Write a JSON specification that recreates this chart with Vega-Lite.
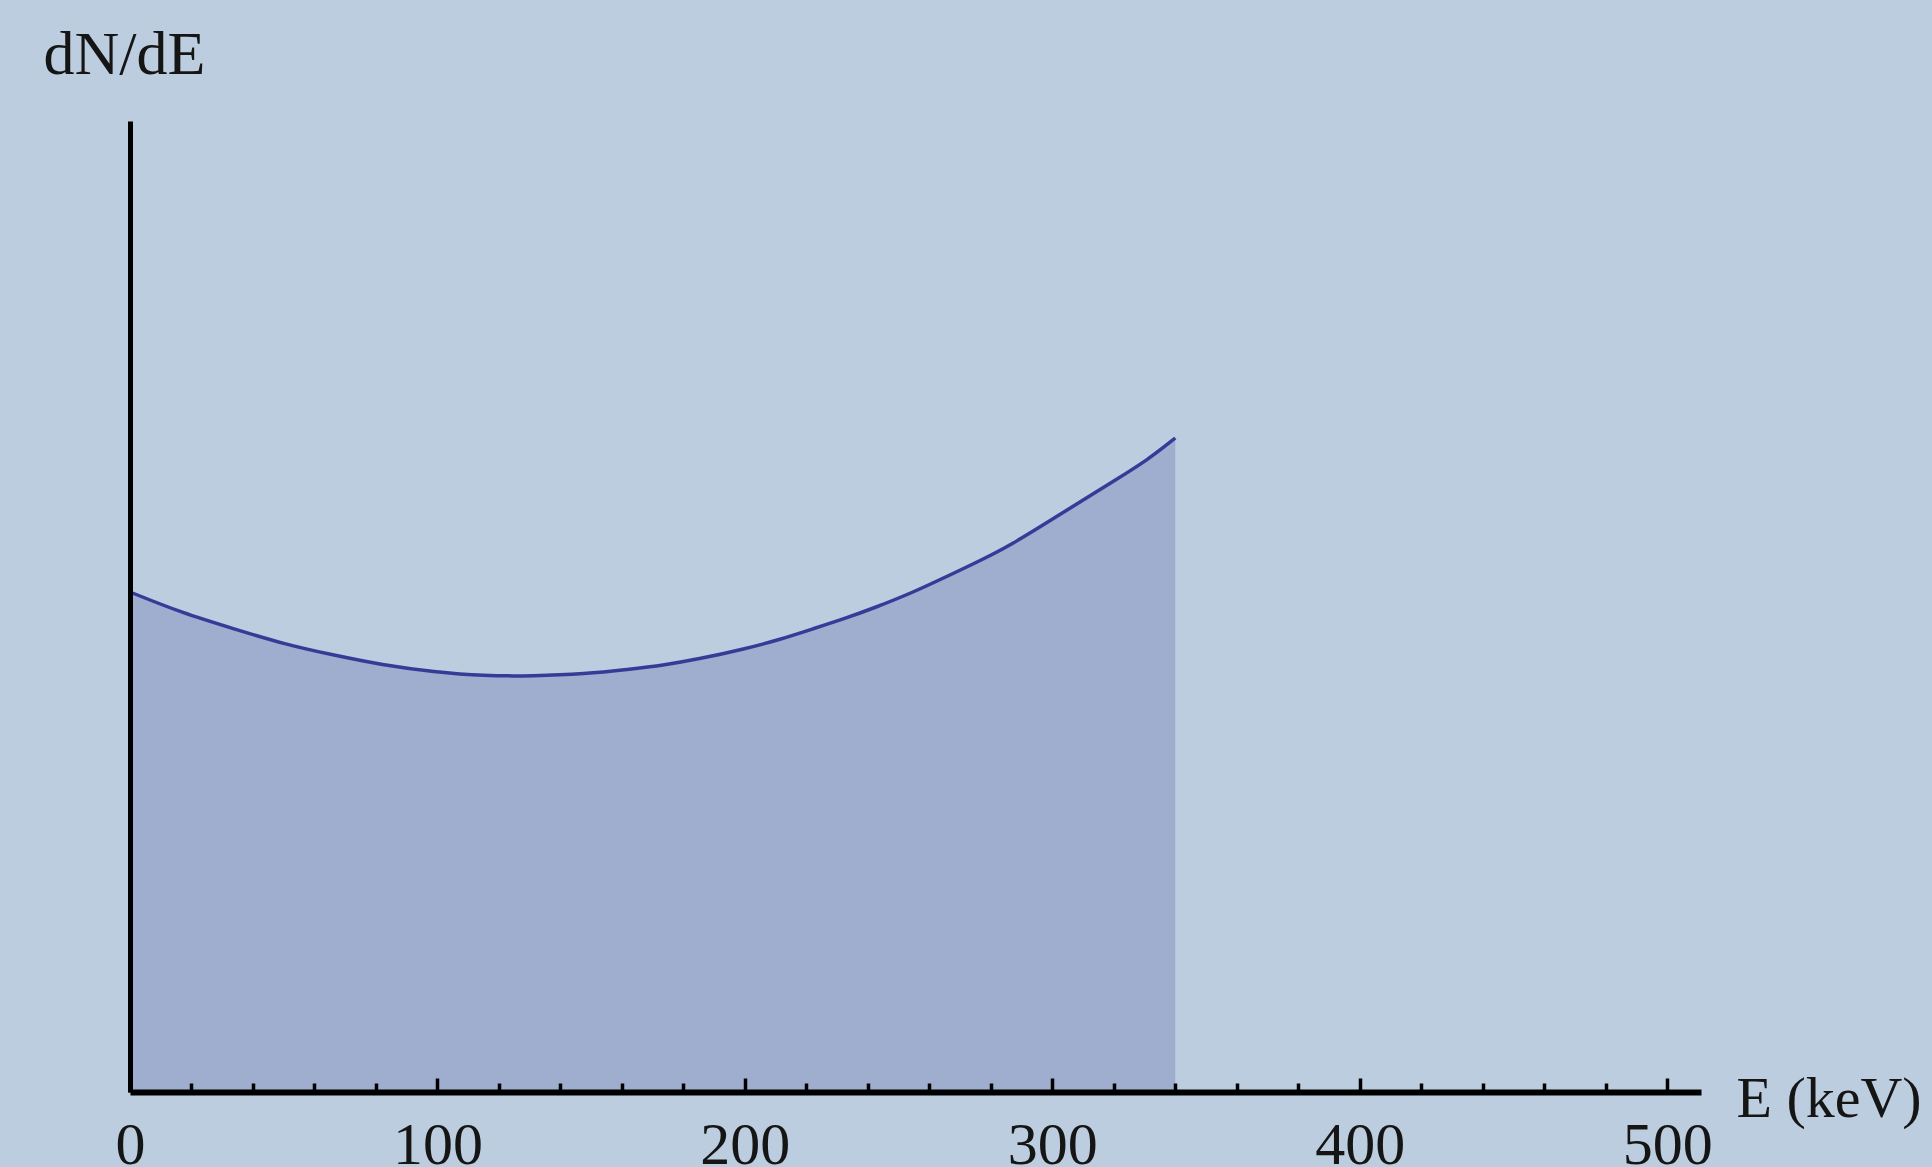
{
  "$schema": "https://vega.github.io/schema/vega-lite/v6.json",
  "width": 1571,
  "height": 971,
  "autosize": {"type": "none"},
  "padding": {"left": 130, "top": 121, "right": 231, "bottom": 75},
  "background": "#bccddf",
  "config": {
    "view": {"stroke": null},
    "axis": {"grid": false}
  },
  "data": {
    "values": [
      {"E": 0, "dNdE": 1.000},
      {"E": 17, "dNdE": 0.958},
      {"E": 34, "dNdE": 0.926},
      {"E": 50, "dNdE": 0.896},
      {"E": 66, "dNdE": 0.874},
      {"E": 82, "dNdE": 0.854},
      {"E": 99, "dNdE": 0.840},
      {"E": 115, "dNdE": 0.832},
      {"E": 131, "dNdE": 0.832},
      {"E": 148, "dNdE": 0.836},
      {"E": 162, "dNdE": 0.845},
      {"E": 174, "dNdE": 0.854},
      {"E": 185, "dNdE": 0.866},
      {"E": 200, "dNdE": 0.886},
      {"E": 212, "dNdE": 0.906},
      {"E": 222, "dNdE": 0.926},
      {"E": 233, "dNdE": 0.948},
      {"E": 242, "dNdE": 0.968},
      {"E": 255, "dNdE": 1.000},
      {"E": 266, "dNdE": 1.032},
      {"E": 277, "dNdE": 1.064},
      {"E": 287, "dNdE": 1.096},
      {"E": 298, "dNdE": 1.138},
      {"E": 309, "dNdE": 1.180},
      {"E": 320, "dNdE": 1.222},
      {"E": 331, "dNdE": 1.264},
      {"E": 340, "dNdE": 1.308}
    ]
  },
  "encoding": {
    "x": {
      "field": "E",
      "type": "quantitative",
      "scale": {"domain": [0, 511], "nice": false, "zero": false},
      "axis": {
        "zindex": 1,
        "values": [0, 20, 40, 60, 80, 100, 120, 140, 160, 180, 200, 220, 240, 260, 280, 300, 320, 340, 360, 380, 400, 420, 440, 460, 480, 500],
        "labelExpr": "datum.value % 100 === 0 ? datum.label : ''",
        "labelFont": "Liberation Serif",
        "labelFontSize": 60,
        "labelColor": "#151515",
        "labelPadding": 38,
        "labelFlush": false,
        "labelOverlap": false,
        "domainColor": "#000000",
        "domainWidth": 6,
        "tickColor": "#000000",
        "tickWidth": 3.5,
        "tickSize": {"condition": {"test": "datum.value % 100 === 0", "value": -14}, "value": -9},
        "title": "E (keV)",
        "titleFont": "Liberation Serif",
        "titleFontSize": 58,
        "titleFontWeight": "normal",
        "titleColor": "#151515",
        "titleAlign": "left",
        "titleBaseline": "alphabetic",
        "titleX": 1606,
        "titleY": 24
      }
    },
    "y": {
      "field": "dNdE",
      "type": "quantitative",
      "scale": {"domain": [0, 1.942], "nice": false},
      "axis": {
        "zindex": 1,
        "ticks": false,
        "labels": false,
        "domainColor": "#000000",
        "domainWidth": 5,
        "title": "dN/dE",
        "titleAngle": 0,
        "titleFont": "Liberation Serif",
        "titleFontSize": 62,
        "titleFontWeight": "normal",
        "titleColor": "#151515",
        "titleAlign": "left",
        "titleBaseline": "alphabetic",
        "titleX": -87,
        "titleY": -48
      }
    }
  },
  "layer": [
    {"mark": {"type": "area", "color": "#9fadce", "opacity": 1, "interpolate": "basis"}},
    {"mark": {"type": "line", "color": "#373b98", "strokeWidth": 3.5, "interpolate": "basis"}}
  ]
}
